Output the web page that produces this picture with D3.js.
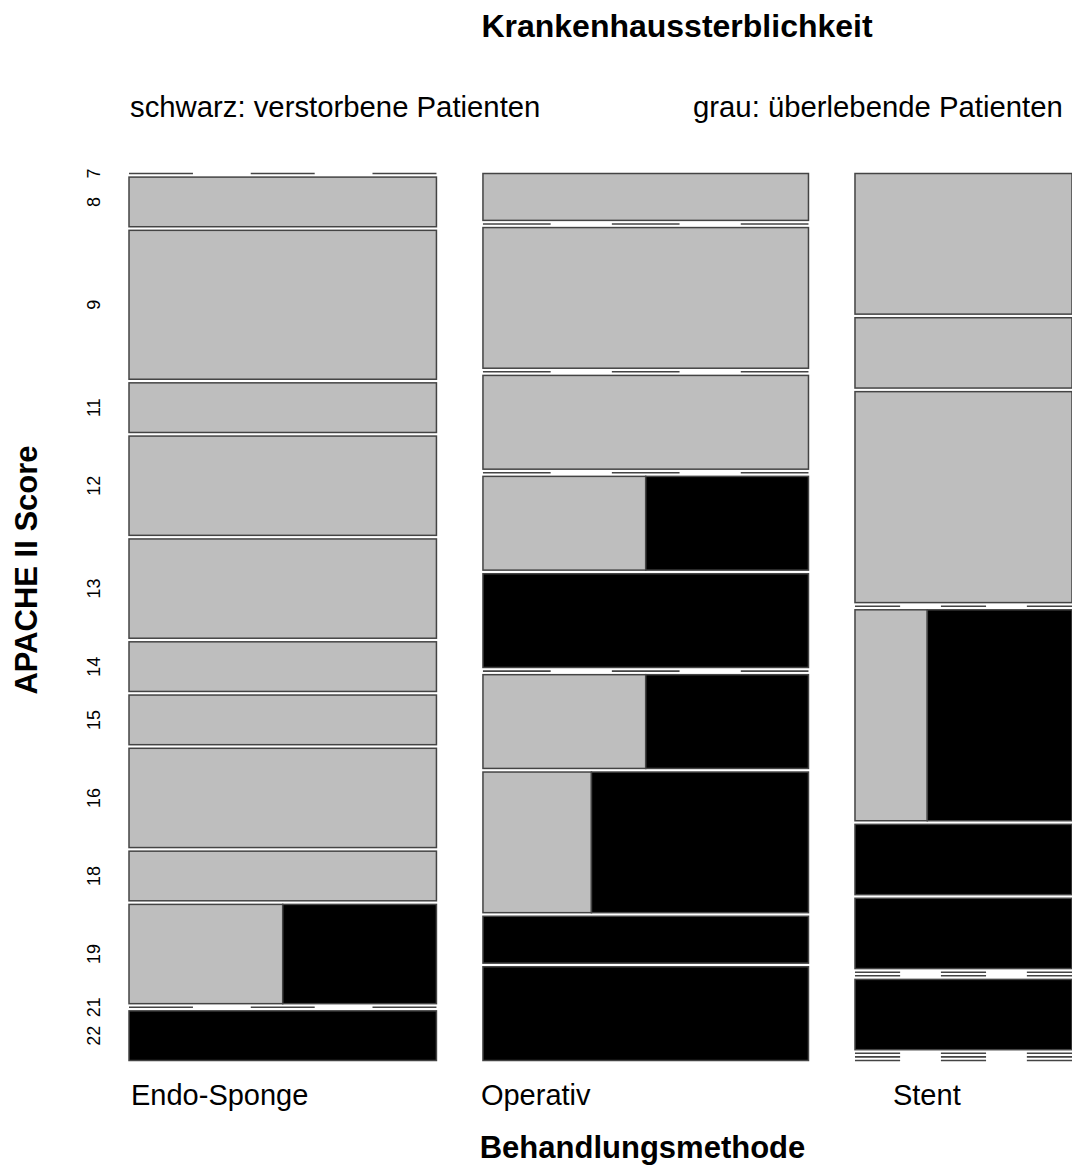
<!DOCTYPE html>
<html>
<head>
<meta charset="utf-8">
<script src="https://cdn.jsdelivr.net/npm/d3@7"></script>
<style>
  body { margin: 0; background: #fff; }
  text { font-family: "Liberation Sans", Arial, sans-serif; fill: #000; }
</style>
</head>
<body>
<div id="mosaic"></div>
<script>
'use strict'

////////////////////////////////////////
//////////////// Data //////////////////
////////////////////////////////////////

const methods = ["Endo-Sponge", "Operativ", "Stent"];
const scores = ["7", "8", "9", "11", "12", "13", "14", "15", "16", "18", "19", "21", "22"];

// counts per score, one array per method (grau = survived, schwarz = died)
const survived = {
  "Endo-Sponge": [0, 1, 3, 1, 2, 2, 1, 1, 2, 1, 1, 0, 0],
  "Operativ":    [1, 0, 3, 0, 2, 0, 1, 0, 0, 1, 1, 0, 0],
  "Stent":       [2, 1, 3, 0, 1, 0, 0, 0, 0, 0, 0, 0, 0]
};
const died = {
  "Endo-Sponge": [0, 0, 0, 0, 0, 0, 0, 0, 0, 0, 1, 0, 1],
  "Operativ":    [0, 0, 0, 0, 0, 0, 1, 2, 0, 1, 2, 1, 2],
  "Stent":       [0, 0, 0, 0, 2, 1, 1, 0, 0, 1, 0, 0, 0]
};

////////////////////////////////////////
/////////////// Options ////////////////
////////////////////////////////////////

const options = {
  width: 1072,
  height: 1169,
  left: 129,
  right: 1072,
  top: 173.5,
  bottom: 1060.5,
  colGap: 46.5,
  rowGap: 3.6,
  grey: "#bebebe",
  black: "#000000",
  stroke: "#444444"
};

// x offsets of the method labels from the column's left edge
const labelShift = [2, -2, 38];

////////////////////////////////////////
////////////// SVG Setup ///////////////
////////////////////////////////////////

const svg = d3.select('#mosaic').append('svg')
  .attr('width', options.width)
  .attr('height', options.height)
  .attr('viewBox', `0 0 ${options.width} ${options.height}`);

////////////////////////////////////////
/////////////// Scales /////////////////
////////////////////////////////////////

const colTotals = methods.map(m => d3.sum(survived[m]) + d3.sum(died[m]));
const colStart = d3.cumsum([0].concat(colTotals));

const xUnits = d3.scaleLinear()
  .domain([0, d3.sum(colTotals)])
  .range([0, options.right - options.left - options.colGap * (methods.length - 1)]);

const availH = options.bottom - options.top - options.rowGap * (scores.length - 1);

// build cells
let cells = [];
let zeros = [];
let columns = [];

methods.forEach((m, i) => {
  const x0 = options.left + xUnits(colStart[i]) + i * options.colGap;
  const w = xUnits(colTotals[i]);
  const yUnits = d3.scaleLinear().domain([0, colTotals[i]]).range([0, availH]);
  columns.push({ method: m, x0: x0, w: w, rows: [] });

  let y = options.top;
  scores.forEach((s, j) => {
    const a = survived[m][j];
    const b = died[m][j];
    const n = a + b;
    const h = yUnits(n);
    columns[i].rows.push({ score: s, mid: y + h / 2 });
    if (n === 0) {
      zeros.push({ x0: x0, w: w, y: y });
    } else {
      const split = d3.scaleLinear().domain([0, n]).range([x0, x0 + w]);
      if (a > 0) cells.push({ x: split(0), w: split(a) - split(0), y: y, h: h, fill: options.grey });
      if (b > 0) cells.push({ x: split(a), w: split(n) - split(a), y: y, h: h, fill: options.black });
    }
    y += h + options.rowGap;
  });
});

////////////////////////////////////////
//////////////// Marks /////////////////
////////////////////////////////////////

svg.selectAll('.cell')
  .data(cells)
  .join('rect')
  .classed('cell', true)
  .attr('x', d => d.x)
  .attr('y', d => d.y)
  .attr('width', d => d.w)
  .attr('height', d => d.h)
  .attr('fill', d => d.fill)
  .attr('stroke', options.stroke)
  .attr('stroke-width', 1.5);

svg.selectAll('.zero')
  .data(zeros)
  .join('line')
  .classed('zero', true)
  .attr('x1', d => d.x0)
  .attr('x2', d => d.x0 + d.w)
  .attr('y1', d => d.y)
  .attr('y2', d => d.y)
  .attr('stroke', options.stroke)
  .attr('stroke-width', 1.6)
  .attr('stroke-dasharray', d => `${d.w * 0.208} ${d.w * 0.188}`);

////////////////////////////////////////
//////////////// Labels ////////////////
////////////////////////////////////////

// score labels along the first column
svg.selectAll('.score-label')
  .data(columns[0].rows)
  .join('text')
  .classed('score-label', true)
  .attr('transform', d => `translate(100,${d.mid}) rotate(-90)`)
  .attr('text-anchor', 'middle')
  .attr('font-size', 18)
  .text(d => d.score);

svg.selectAll('.method-label')
  .data(columns)
  .join('text')
  .classed('method-label', true)
  .attr('x', (d, i) => d.x0 + labelShift[i])
  .attr('y', 1105)
  .attr('font-size', 29)
  .text(d => d.method);

svg.append('text')
  .attr('x', 677)
  .attr('y', 37)
  .attr('text-anchor', 'middle')
  .attr('font-size', 32)
  .attr('font-weight', 'bold')
  .text('Krankenhaussterblichkeit');

svg.append('text')
  .attr('x', 130)
  .attr('y', 117)
  .attr('font-size', 29.3)
  .text('schwarz: verstorbene Patienten');

svg.append('text')
  .attr('x', 693)
  .attr('y', 117)
  .attr('font-size', 29.3)
  .text('grau: überlebende Patienten');

svg.append('text')
  .attr('x', 642.5)
  .attr('y', 1158)
  .attr('text-anchor', 'middle')
  .attr('font-size', 31)
  .attr('font-weight', 'bold')
  .text('Behandlungsmethode');

svg.append('text')
  .attr('transform', 'translate(37,570) rotate(-90)')
  .attr('text-anchor', 'middle')
  .attr('font-size', 31)
  .attr('font-weight', 'bold')
  .text('APACHE II Score');
</script>
</body>
</html>
